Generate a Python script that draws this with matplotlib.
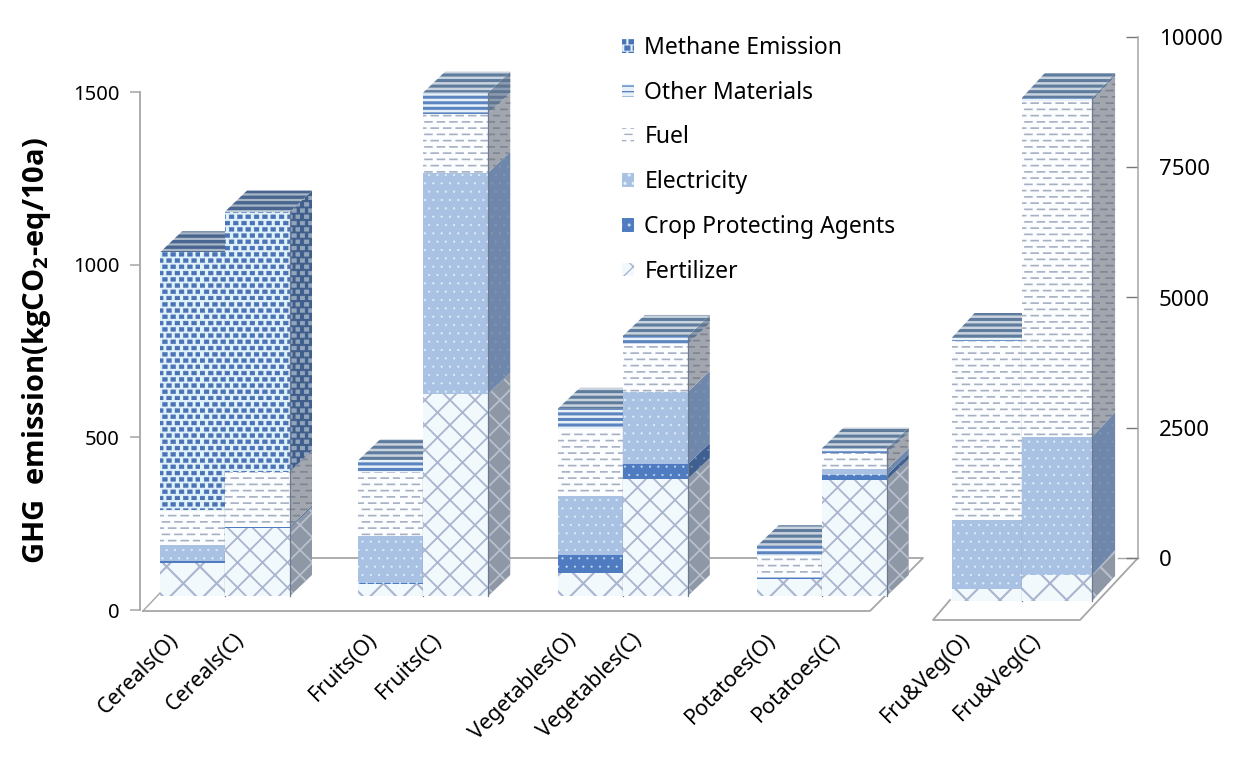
import matplotlib
matplotlib.use("Agg")
import matplotlib.pyplot as plt
import matplotlib.hatch as mhatch
from matplotlib.patches import Polygon, Patch
from matplotlib.path import Path
import numpy as np

# ---------- data ----------
categories = ["Cereals(O)", "Cereals(C)", "Fruits(O)", "Fruits(C)", "Vegetables(O)",
              "Vegetables(C)", "Potatoes(O)", "Potatoes(C)", "Fru&Veg(O)", "Fru&Veg(C)"]
positions = [0, 1, 3.05, 4.05, 6.12, 7.12, 9.18, 10.18, 12.18, 13.26]
fertilizer = [95, 197, 35, 585, 67, 339, 49, 336, 230, 500]
crop_agents = [6, 4, 3, 1, 52, 43, 2, 14, 0, 0]
electricity = [46, 0, 135, 640, 171, 209, 3, 17, 1324, 2648]
fuel = [98, 159, 185, 171, 194, 139, 61, 46, 3436, 6449]
other_materials = [3, 0, 35, 61, 58, 23, 29, 14, 58, 58]
methane = [747, 753, 0, 0, 0, 0, 0, 0, 0, 0]
left_ticks = [0, 500, 1000, 1500]
right_ticks = [0, 2500, 5000, 7500, 10000]
series_names = ["Fertilizer", "Crop Protecting Agents", "Electricity", "Fuel",
                "Other Materials", "Methane Emission"]
series_values = [fertilizer, crop_agents, electricity, fuel, other_materials, methane]

# ---------- custom hatches ----------
class Checks(mhatch.HatchPatternBase):
    rows, cols = 16, 24
    def __init__(self, hatch, density):
        self.on = "*" in (hatch or "")
        self.num_vertices = self.rows * self.cols // 2 * 5 if self.on else 0
    def set_vertices_and_codes(self, vertices, codes):
        i = 0
        for r in range(self.rows):
            for c in range(self.cols):
                if (r + c) % 2:
                    continue
                x0, y0 = c / self.cols, r / self.rows
                w, h = 1.15 / self.cols, 0.62 / self.rows
                vertices[i:i + 5] = [(x0, y0), (x0 + w, y0), (x0 + w, y0 + h), (x0, y0 + h), (x0, y0)]
                codes[i:i + 5] = [Path.MOVETO, Path.LINETO, Path.LINETO, Path.LINETO, Path.CLOSEPOLY]
                i += 5

class Dashes(mhatch.HatchPatternBase):
    rows, cols = 16, 8
    def __init__(self, hatch, density):
        self.on = "O" in (hatch or "")
        self.num_vertices = self.rows * self.cols * 2 if self.on else 0
    def set_vertices_and_codes(self, vertices, codes):
        i = 0
        for r in range(self.rows):
            for c in range(self.cols):
                x0 = (c + 0.5 * (r % 2)) / self.cols
                y0 = (r + 0.5) / self.rows
                vertices[i:i + 2] = [(x0, y0), (x0 + 0.55 / self.cols, y0)]
                codes[i:i + 2] = [Path.MOVETO, Path.LINETO]
                i += 2

class FineCross(mhatch.HatchPatternBase):
    n = 8
    def __init__(self, hatch, density):
        self.on = "o" in (hatch or "")
        self.num_vertices = (self.n + 1) * 4 if self.on else 0
    def set_vertices_and_codes(self, vertices, codes):
        i = 0
        for s in np.linspace(-0.5, 0.5, self.n + 1):
            vertices[i:i + 4] = [(s, -s), (1 + s, 1 - s), (s, 1 + s), (1 + s, s)]
            codes[i:i + 4] = [Path.MOVETO, Path.LINETO, Path.MOVETO, Path.LINETO]
            i += 4

mhatch._hatch_types[:] = [t for t in mhatch._hatch_types
                          if t not in (mhatch.Stars, mhatch.LargeCircles, mhatch.SmallCircles)
                          ] + [Checks, Dashes, FineCross]

# (hatch, linewidth, front face, front hatch, side face, side hatch)
styles = [
    ("x",   1.5, "#f2f9fd", "#a9b5cf", "#8e97a6", "#b9c0cc"),
    ("..",  0.3, "#4f7cc0", "#c4dcf4", "#3f5f90", "#6f8fbb"),
    ("..",  0.3, "#a9c2e4", "#e4f1fb", "#6f87aa", "#7f97b8"),
    ("O",   1.2, "#fbfdfe", "#a6b0c3", "#a2a6ae", "#7f8590"),
    ("---", 2.2, "#e8f1f8", "#5b84c0", "#8c9cb0", "#5f7590"),
    ("*",   0.3, "#dff2fb", "#4a72b4", "#3f5e8c", "#93a5bb"),
]
top_styles = {4: ("---", 2.2, "#c9d3dd", "#5f7c9e"), 5: ("---", 2.4, "#a9b6c6", "#48668f"),
              3: ("---", 2.2, "#c9d3dd", "#5f7c9e")}

# ---------- figure ----------
W, H = 1247, 764
plt.rcParams["font.family"] = ["Noto Sans", "DejaVu Sans"]
plt.rcParams["mathtext.fontset"] = "custom"
plt.rcParams["mathtext.rm"] = "Open Sans"
plt.rcParams["mathtext.bf"] = "Open Sans:bold"
plt.rcParams["mathtext.default"] = "bf"
fig = plt.figure(figsize=(W / 100, H / 100), dpi=100)
ax_l, ax_r, ax_b, ax_t = 140, 1138, 610, 37
ax = fig.add_axes([ax_l / W, 1 - ax_b / H, (ax_r - ax_l) / W, (ax_b - ax_t) / H])
ax2 = ax.twinx()

BAR_PX = 65.0
X0_PX = 160.0
LEFT_SCALE = 0.3453   # pixels per left-axis unit
RIGHT_SCALE = 0.0521  # pixels per right-axis unit
ax.set_xlim((ax_l - X0_PX) / BAR_PX, (ax_r - X0_PX) / BAR_PX)
ax.set_ylim(0, (ax_b - ax_t) / LEFT_SCALE)
ax2.set_ylim(-(ax_b - 558) / RIGHT_SCALE, 10000)

GRAY = "#a6a6a6"
def px_x(p): return (p - X0_PX) / BAR_PX
def ly(p): return (ax_b - p) / LEFT_SCALE
def ry(p): return (558 - p) / RIGHT_SCALE

def poly(a, pts, fc, hatch, hc, lw, z):
    with plt.rc_context({"hatch.linewidth": lw}):
        a.add_patch(Polygon(pts, closed=True, facecolor=fc, edgecolor=hc, hatch=hatch,
                            linewidth=0, clip_on=False, zorder=z))

def draw_bar(a, i, width, base, dx, dy, z):
    x = positions[i]
    y = base
    top_idx = None
    for s, vals in enumerate(series_values):
        v = vals[i]
        if v <= 0:
            continue
        h, lw, fc, hc, sfc, shc = styles[s]
        if s == 0 and i % 2 == 1 and i != 9:
            h, lw = "o", 1.3          # conventional bars have the finer lattice
        y1 = y + v
        poly(a, [(x + width, y), (x + width + dx, y + dy), (x + width + dx, y1 + dy), (x + width, y1)],
             sfc, h, shc, lw, z)
        poly(a, [(x, y), (x + width, y), (x + width, y1), (x, y1)], fc, h, hc, lw, z + 0.1)
        y = y1
        top_idx = s
    h, lw, fc, hc = top_styles[top_idx]
    poly(a, [(x, y), (x + width, y), (x + width + dx, y + dy), (x + dx, y + dy)], fc, h, hc, lw, z)
    a.plot([x + width] * 2, [base, y], color="#6b7a90", lw=0.9, clip_on=False, zorder=z + 0.2)

# floors
ax.plot([px_x(143), px_x(870), px_x(923), px_x(310)], [ly(611), ly(611), ly(558), ly(558)],
        color=GRAY, lw=1.3, zorder=1, clip_on=False)
ax.plot([px_x(143), px_x(160)], [ly(611), ly(593)], color=GRAY, lw=1.0, zorder=1, clip_on=False)
ax2.plot([px_x(950), px_x(933), px_x(1080), px_x(1138)], [ry(600), ry(620), ry(620), ry(558)],
         color=GRAY, lw=1.3, zorder=1, clip_on=False)
ax2.plot([px_x(1118), px_x(1138)], [ry(558), ry(558)], color=GRAY, lw=1.0, zorder=1, clip_on=False)

# bars
left_base = (ax_b - 596) / LEFT_SCALE
right_base = (558 - 601) / RIGHT_SCALE
for i in range(8):
    draw_bar(ax, i, 1.0, left_base, 22 / BAR_PX, 21 / LEFT_SCALE, 3 + i)
for i in (8, 9):
    draw_bar(ax2, i, 1.08, right_base, 23 / BAR_PX, 25 / RIGHT_SCALE, 3 + i)

# axes
for a in (ax, ax2):
    for k in ("top", "bottom", "left", "right"):
        a.spines[k].set_visible(False)
    a.patch.set_visible(False)
ax.spines["left"].set_visible(True)
ax.spines["left"].set_bounds(0, 1500)
ax.spines["left"].set_color(GRAY)
ax.spines["left"].set_linewidth(1.3)
ax.set_yticks(left_ticks)
ax.tick_params(axis="y", direction="out", length=7, width=1.1, color=GRAY, pad=8, labelsize=14.5)
ax2.spines["right"].set_visible(True)
ax2.spines["right"].set_bounds(0, 10000)
ax2.spines["right"].set_color(GRAY)
ax2.spines["right"].set_linewidth(1.1)
ax2.set_yticks(right_ticks)
ax2.tick_params(axis="y", direction="in", length=9, width=1.0, color="#777777", pad=15, labelsize=16)

centres = [p + 0.13 for p in positions]
ax.set_xticks(centres)
ax.set_xticklabels(categories, rotation=45, ha="right", rotation_mode="anchor", fontsize=15.5)
ax.tick_params(axis="x", length=0, pad=14)

fig.text(37 / W, 1 - 351 / H, r"GHG  emission(kgCO$_{2}$-eq/10a)", rotation=90,
         ha="center", va="center", fontsize=21, fontweight="bold", family="Open Sans")

# legend
handles = []
for s in range(5, -1, -1):
    h, lw, fc, hc, _, _ = styles[s]
    with plt.rc_context({"hatch.linewidth": lw}):
        handles.append(Patch(facecolor=fc, edgecolor=hc, hatch=h, linewidth=0, label=series_names[s]))
leg = fig.legend(handles=handles, loc="upper left", bbox_to_anchor=(615 / W, 1 - 29 / H),
                 frameon=False, fontsize=16.5, labelspacing=0.905, handlelength=0.55,
                 handleheight=0.55, handletextpad=0.43, borderpad=0.3, borderaxespad=0)

fig.savefig("out.png", dpi=100, facecolor="white")
